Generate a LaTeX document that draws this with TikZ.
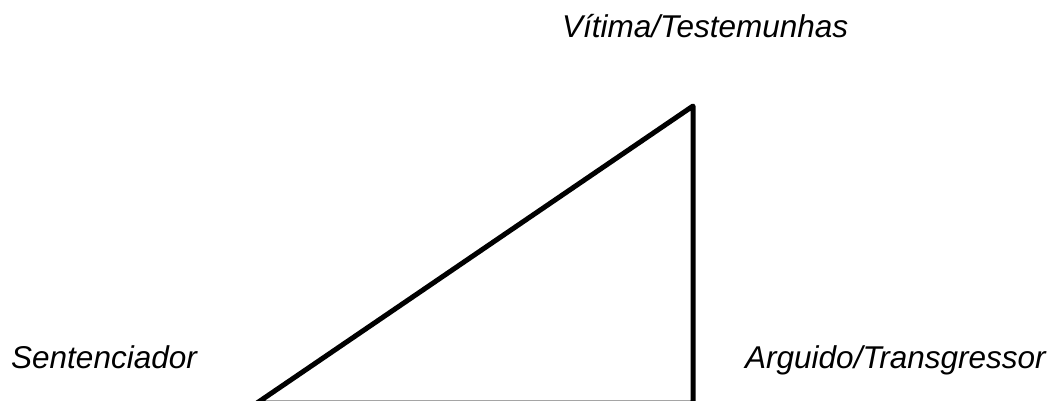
\documentclass[tikz,border=0pt]{standalone}
\usepackage{fontspec}
\setmainfont{Liberation Sans}
\begin{document}
\begin{tikzpicture}[x=1pt,y=-1pt,
  lbl/.style={anchor=base west,inner sep=0pt,font=\fontsize{31.5}{36}\selectfont\itshape},
  edge/.style={line width=5pt,line join=round}]
\useasboundingbox (0,0) rectangle (1057,401);
\coordinate (bl) at (257,403);
\coordinate (tr) at (693,106);
\coordinate (br) at (693,403);
\draw[edge] (bl) -- (tr) -- (br) -- cycle;
\node[lbl] (vit) at (562,38) {Vítima/Testemunhas};
\node[lbl] (sen) at (11,368) {Sentenciador};
\node[lbl] (arg) at (745,368) {Arguido/Transgressor};
\end{tikzpicture}
\end{document}
